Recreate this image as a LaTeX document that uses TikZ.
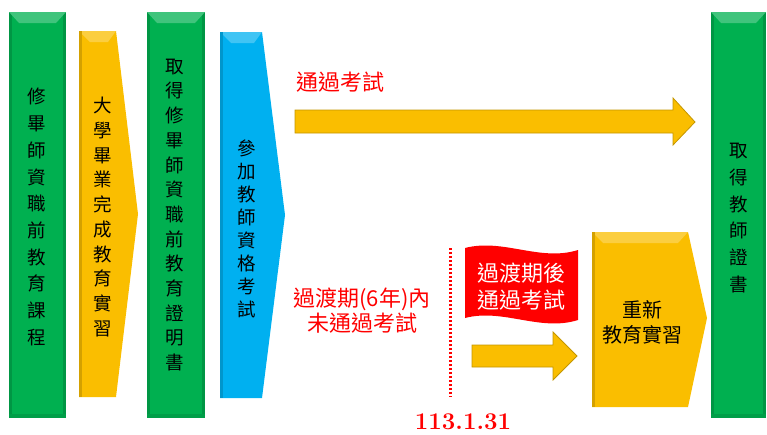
\documentclass[tikz,border=0pt]{standalone}
\usepackage{fontspec}
\newfontfamily\cjk{Noto Sans CJK TC}
\usetikzlibrary{calc}
\usetikzlibrary{positioning}

\definecolor{barGreen}{RGB}{0,176,80}
\definecolor{barYellow}{RGB}{250,190,0}
\definecolor{barBlue}{RGB}{0,176,240}
\definecolor{flagRed}{RGB}{255,0,0}
\definecolor{arrowEdge}{RGB}{196,150,0}

\tikzset{
	vtext/.style={font=\cjk\fontsize{18.5}{#1}\selectfont, align=center, inner sep=0pt},
	redlabel/.style={font=\cjk\fontsize{22}{#1}\selectfont, text=flagRed, align=center, inner sep=0pt},
	blockarrow/.style={fill=barYellow, draw=arrowEdge, line width=0.8pt, line join=miter},
}

\begin{document}
\begin{tikzpicture}[x=1pt,y=-1pt]
		\useasboundingbox (0,0) rectangle (767,434);

		% green bars with a bevelled top
		\foreach \xa/\xb in {9/66, 147/205, 711/766}{
			\fill[barGreen] (\xa,12) rectangle (\xb,418);
			\fill[barGreen!85!black] (\xa,12) rectangle ({\xa+3},418);
			\fill[barGreen!85!black] ({\xb-3},12) rectangle (\xb,418);
			\fill[barGreen!90!black] (\xa,414) rectangle (\xb,418);
			\fill[barGreen!75!white] (\xa,12) -- (\xb,12) -- ({\xb-10},23) -- ({\xa+10},23) -- cycle;
		}

		% chevrons
		\coordinate (Y1) at (79,31);
		\fill[barYellow] (Y1) -- (116,31) -- (138,214) -- (116,397) -- (79,397) -- cycle;
		\fill[barYellow!75!white] (Y1) -- (116,31) -- (108,42) -- (90,42) -- cycle;
		\fill[barYellow!85!black] (79,31) rectangle (82,397);

		\coordinate (B1) at (220,32);
		\fill[barBlue] (B1) -- (262,32) -- (285,215) -- (262,398) -- (220,398) -- cycle;
		\fill[barBlue!75!white] (B1) -- (262,32) -- (254,43) -- (231,43) -- cycle;
		\fill[barBlue!85!black] (220,32) rectangle (223,398);

		\coordinate (Y2) at (592,232);
		\fill[barYellow] (Y2) -- (688,232) -- (707,318) -- (688,407) -- (592,407) -- cycle;
		\fill[barYellow!75!white] (Y2) -- (688,232) -- (678,243) -- (603,243) -- cycle;
		\fill[barYellow!85!black] (592,232) rectangle (595,407);

		% block arrows
		\draw[blockarrow] (295,110) -- (673,110) -- (673,98) -- (695,122) -- (673,145) -- (673,133) -- (295,133) -- cycle;
		\draw[blockarrow] (472,345) -- (553,345) -- (553,332) -- (577,356) -- (553,380) -- (553,367) -- (472,367) -- cycle;

		% flag
		\fill[flagRed] (465,248) .. controls (503,238) and (540,262) .. (578,250)
			-- (578,320) .. controls (540,332) and (503,308) .. (465,318) -- cycle;

		% cut-off date
		\coordinate (dlTop) at (450,248);
		\coordinate (dlBot) at (450,397);
		\draw[flagRed, line width=3pt, dash pattern=on 2pt off 2pt] (dlTop) -- (dlBot);

		% texts
		\node[vtext=26.7] (course) at (37,217) {修\\畢\\師\\資\\職\\前\\教\\育\\課\\程};
		\node[vtext=24.7] (intern) at (103,217) {大\\學\\畢\\業\\完\\成\\教\\育\\實\\習};
		\node[vtext=24.7] (proof) at (175,215) {取\\得\\修\\畢\\師\\資\\職\\前\\教\\育\\證\\明\\書};
		\node[vtext=23.1] (exam) at (247,229) {參\\加\\教\\師\\資\\格\\考\\試};
		\node[vtext=26.7] (cert) at (739,218) {取\\得\\教\\師\\證\\書};

		\node[redlabel=25] (pass) at (340,82) {通過考試};
		\node[redlabel=25] (fail) at (362,311) {過渡期(6年)內\\未通過考試};
		\node[redlabel=27, text=white] (late) at (521,287) {過渡期後\\通過考試};
		\node[font=\cjk\fontsize{20}{25}\selectfont, align=center, inner sep=0pt] (retrain) at (642,322) {重新\\教育實習};
		\node[font=\fontsize{24}{24}\selectfont\bfseries, text=flagRed, inner sep=0pt] (date) at (463,422) {113.1.31};
\end{tikzpicture}
\end{document}
